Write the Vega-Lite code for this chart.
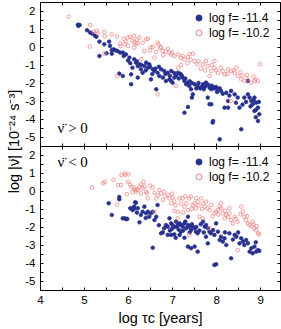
{
"$schema":"https://vega.github.io/schema/vega-lite/v6.json",
"padding":{"left":5,"top":1,"right":1,"bottom":0},
"config":{"view":{"stroke":"#000","strokeWidth":1},"font":"Liberation Sans","axis":{"domainColor":"#000","tickColor":"#000","labelColor":"#000","titleColor":"#000","grid":false,"tickSize":-3,"labelFontSize":11.5,"labelFlush":false,"labelOverlap":false,"titleFontWeight":"normal"}},
"datasets":{
"gt":[
{"x":4.86,"y":1.24,"f":"-11.4"},{"x":4.88,"y":1.2,"f":"-11.4"},{"x":4.9,"y":1.22,"f":"-11.4"},{"x":4.87,"y":1.18,"f":"-11.4"},{"x":5.07,"y":0.93,"f":"-11.4"},{"x":5.14,"y":0.8,"f":"-11.4"},{"x":5.19,"y":0.74,"f":"-11.4"},{"x":5.25,"y":0.63,"f":"-11.4"},{"x":5.28,"y":0.57,"f":"-11.4"},{"x":5.27,"y":0.6,"f":"-11.4"},{"x":5.35,"y":0.3,"f":"-11.4"},{"x":5.46,"y":0.15,"f":"-11.4"},{"x":5.57,"y":0.3,"f":"-11.4"},{"x":5.59,"y":0.06,"f":"-11.4"},{"x":5.63,"y":-0.17,"f":"-11.4"},{"x":5.67,"y":-0.13,"f":"-11.4"},{"x":5.71,"y":-0.18,"f":"-11.4"},{"x":5.76,"y":-0.22,"f":"-11.4"},{"x":5.82,"y":-0.31,"f":"-11.4"},{"x":5.35,"y":-0.5,"f":"-11.4"},{"x":5.51,"y":-0.35,"f":"-11.4"},{"x":5.63,"y":-0.37,"f":"-11.4"},{"x":5.8,"y":-1.48,"f":"-11.4"},
{"x":5.88,"y":-0.31,"f":"-11.4"},{"x":5.95,"y":-0.41,"f":"-11.4"},{"x":6.03,"y":-0.59,"f":"-11.4"},{"x":5.88,"y":-1.61,"f":"-11.4"},{"x":6.07,"y":-1.52,"f":"-11.4"},{"x":6.1,"y":-1.15,"f":"-11.4"},{"x":6.14,"y":-0.68,"f":"-11.4"},{"x":6.18,"y":-0.87,"f":"-11.4"},{"x":6.22,"y":-1.06,"f":"-11.4"},{"x":6.26,"y":-0.96,"f":"-11.4"},{"x":6.29,"y":-1.24,"f":"-11.4"},{"x":6.33,"y":-1.43,"f":"-11.4"},{"x":6.07,"y":-2.07,"f":"-11.4"},{"x":6.22,"y":-1.7,"f":"-11.4"},{"x":6.37,"y":-1.06,"f":"-11.4"},{"x":6.41,"y":-0.87,"f":"-11.4"},{"x":6.45,"y":-1.15,"f":"-11.4"},{"x":6.48,"y":-0.96,"f":"-11.4"},{"x":6.52,"y":-1.8,"f":"-11.4"},{"x":6.56,"y":-1.24,"f":"-11.4"},{"x":6.6,"y":-1.33,"f":"-11.4"},{"x":6.64,"y":-2.35,"f":"-11.4"},{"x":6.67,"y":-1.43,"f":"-11.4"},{"x":6.71,"y":-1.61,"f":"-11.4"},{"x":6.75,"y":-1.24,"f":"-11.4"},{"x":6.79,"y":-1.7,"f":"-11.4"},{"x":6.82,"y":-1.33,"f":"-11.4"},{"x":6.86,"y":-1.89,"f":"-11.4"},{"x":6.9,"y":-1.43,"f":"-11.4"},{"x":6.94,"y":-1.8,"f":"-11.4"},{"x":6.98,"y":-1.89,"f":"-11.4"},{"x":7.01,"y":-1.98,"f":"-11.4"},{"x":7.05,"y":-1.7,"f":"-11.4"},{"x":7.09,"y":-1.61,"f":"-11.4"},{"x":7.13,"y":-1.43,"f":"-11.4"},{"x":7.17,"y":-1.48,"f":"-11.4"},{"x":7.2,"y":-1.52,"f":"-11.4"},{"x":7.24,"y":-1.7,"f":"-11.4"},{"x":7.28,"y":-1.89,"f":"-11.4"},{"x":7.32,"y":-2.07,"f":"-11.4"},{"x":7.36,"y":-1.98,"f":"-11.4"},{"x":7.39,"y":-2.17,"f":"-11.4"},{"x":7.43,"y":-2.35,"f":"-11.4"},{"x":7.47,"y":-2.63,"f":"-11.4"},{"x":7.51,"y":-2.07,"f":"-11.4"},{"x":7.58,"y":-2.17,"f":"-11.4"},{"x":7.64,"y":-2.3,"f":"-11.4"},{"x":7.36,"y":-3.33,"f":"-11.4"},{"x":7.28,"y":-3.65,"f":"-11.4"},{"x":7.45,"y":-2.81,"f":"-11.4"},{"x":6.98,"y":-1.33,"f":"-11.4"},
{"x":7.7,"y":-2.07,"f":"-11.4"},{"x":7.77,"y":-1.98,"f":"-11.4"},{"x":7.85,"y":-2.26,"f":"-11.4"},{"x":7.89,"y":-2.35,"f":"-11.4"},{"x":7.93,"y":-2.22,"f":"-11.4"},{"x":7.96,"y":-2.3,"f":"-11.4"},{"x":8.0,"y":-2.22,"f":"-11.4"},{"x":8.04,"y":-2.35,"f":"-11.4"},{"x":8.08,"y":-2.3,"f":"-11.4"},{"x":8.11,"y":-2.44,"f":"-11.4"},{"x":7.81,"y":-2.81,"f":"-11.4"},{"x":7.89,"y":-3.18,"f":"-11.4"},{"x":7.93,"y":-4.11,"f":"-11.4"},{"x":8.08,"y":-5.13,"f":"-11.4"},{"x":8.19,"y":-3.37,"f":"-11.4"},{"x":8.23,"y":-2.54,"f":"-11.4"},{"x":8.27,"y":-3.0,"f":"-11.4"},{"x":8.34,"y":-2.44,"f":"-11.4"},{"x":8.42,"y":-2.63,"f":"-11.4"},{"x":8.49,"y":-2.81,"f":"-11.4"},{"x":8.53,"y":-3.37,"f":"-11.4"},{"x":8.57,"y":-4.57,"f":"-11.4"},{"x":8.64,"y":-2.81,"f":"-11.4"},{"x":8.72,"y":-2.63,"f":"-11.4"},{"x":8.72,"y":-1.89,"f":"-11.4"},{"x":8.8,"y":-3.0,"f":"-11.4"},{"x":8.83,"y":-3.18,"f":"-11.4"},{"x":8.87,"y":-2.81,"f":"-11.4"},{"x":8.91,"y":-3.09,"f":"-11.4"},{"x":8.95,"y":-3.37,"f":"-11.4"},{"x":8.98,"y":-3.74,"f":"-11.4"},{"x":8.87,"y":-3.55,"f":"-11.4"},{"x":8.76,"y":-2.81,"f":"-11.4"},{"x":8.95,"y":-4.11,"f":"-11.4"},{"x":8.9,"y":-3.9,"f":"-11.4"},
{"x":5.9,"y":-0.5,"f":"-11.4"},{"x":6.0,"y":-0.75,"f":"-11.4"},{"x":6.05,"y":-0.9,"f":"-11.4"},{"x":6.2,"y":-0.8,"f":"-11.4"},{"x":6.3,"y":-1.0,"f":"-11.4"},{"x":6.4,"y":-1.3,"f":"-11.4"},{"x":6.5,"y":-1.1,"f":"-11.4"},{"x":6.55,"y":-1.5,"f":"-11.4"},{"x":6.62,"y":-1.2,"f":"-11.4"},{"x":6.7,"y":-1.1,"f":"-11.4"},{"x":6.85,"y":-1.5,"f":"-11.4"},{"x":6.95,"y":-1.6,"f":"-11.4"},{"x":7.05,"y":-1.45,"f":"-11.4"},{"x":7.15,"y":-1.75,"f":"-11.4"},{"x":7.22,"y":-1.6,"f":"-11.4"},{"x":7.3,"y":-1.75,"f":"-11.4"},{"x":7.4,"y":-1.9,"f":"-11.4"},{"x":7.45,"y":-2.0,"f":"-11.4"},{"x":7.55,"y":-2.3,"f":"-11.4"},{"x":7.6,"y":-2.0,"f":"-11.4"},{"x":7.68,"y":-2.2,"f":"-11.4"},{"x":7.72,"y":-2.35,"f":"-11.4"},{"x":7.75,"y":-2.2,"f":"-11.4"},{"x":7.82,"y":-2.1,"f":"-11.4"},{"x":7.9,"y":-2.15,"f":"-11.4"},{"x":8.02,"y":-2.5,"f":"-11.4"},{"x":8.15,"y":-2.6,"f":"-11.4"},{"x":8.3,"y":-2.7,"f":"-11.4"},{"x":8.45,"y":-3.1,"f":"-11.4"},{"x":8.6,"y":-3.2,"f":"-11.4"},{"x":8.68,"y":-3.05,"f":"-11.4"},{"x":8.78,"y":-3.3,"f":"-11.4"},{"x":8.85,"y":-2.95,"f":"-11.4"},{"x":8.9,"y":-3.5,"f":"-11.4"},{"x":8.97,"y":-3.05,"f":"-11.4"},{"x":7.92,"y":-4.2,"f":"-11.4"},{"x":7.85,"y":-3.18,"f":"-11.4"},{"x":8.27,"y":-3.37,"f":"-11.4"},
{"x":4.65,"y":1.69,"f":"-10.2"},{"x":5.14,"y":1.22,"f":"-10.2"},{"x":5.22,"y":0.85,"f":"-10.2"},{"x":5.29,"y":0.89,"f":"-10.2"},{"x":5.31,"y":0.76,"f":"-10.2"},{"x":5.46,"y":0.83,"f":"-10.2"},{"x":5.47,"y":0.59,"f":"-10.2"},{"x":5.63,"y":0.7,"f":"-10.2"},{"x":5.75,"y":0.59,"f":"-10.2"},{"x":5.13,"y":0.02,"f":"-10.2"},{"x":5.46,"y":-0.37,"f":"-10.2"},{"x":5.75,"y":-1.61,"f":"-10.2"},{"x":5.82,"y":0.19,"f":"-10.2"},{"x":5.83,"y":0.05,"f":"-10.2"},
{"x":5.9,"y":0.46,"f":"-10.2"},{"x":5.99,"y":0.52,"f":"-10.2"},{"x":6.05,"y":0.57,"f":"-10.2"},{"x":6.13,"y":0.61,"f":"-10.2"},{"x":5.92,"y":0.15,"f":"-10.2"},{"x":6.14,"y":0.24,"f":"-10.2"},{"x":6.18,"y":0.15,"f":"-10.2"},{"x":6.22,"y":0.21,"f":"-10.2"},{"x":6.14,"y":-0.04,"f":"-10.2"},{"x":6.26,"y":0.52,"f":"-10.2"},{"x":6.33,"y":0.24,"f":"-10.2"},{"x":6.37,"y":-0.22,"f":"-10.2"},{"x":6.45,"y":0.46,"f":"-10.2"},{"x":6.51,"y":0.0,"f":"-10.2"},{"x":6.56,"y":0.0,"f":"-10.2"},{"x":6.64,"y":-0.28,"f":"-10.2"},{"x":6.67,"y":0.24,"f":"-10.2"},{"x":6.69,"y":0.15,"f":"-10.2"},{"x":6.73,"y":-0.07,"f":"-10.2"},{"x":6.79,"y":-0.22,"f":"-10.2"},{"x":6.86,"y":-0.26,"f":"-10.2"},{"x":6.94,"y":-0.31,"f":"-10.2"},{"x":6.98,"y":-0.41,"f":"-10.2"},{"x":7.05,"y":-0.5,"f":"-10.2"},{"x":7.13,"y":-0.41,"f":"-10.2"},{"x":7.24,"y":-0.5,"f":"-10.2"},{"x":7.28,"y":-0.68,"f":"-10.2"},{"x":7.36,"y":-0.56,"f":"-10.2"},{"x":7.47,"y":-0.37,"f":"-10.2"},{"x":7.51,"y":-0.78,"f":"-10.2"},{"x":7.57,"y":-0.96,"f":"-10.2"},{"x":7.14,"y":-1.15,"f":"-10.2"},{"x":6.67,"y":-2.63,"f":"-10.2"},{"x":7.09,"y":-2.17,"f":"-10.2"},{"x":6.6,"y":-0.59,"f":"-10.2"},{"x":6.3,"y":-0.68,"f":"-10.2"},{"x":6.0,"y":0.06,"f":"-10.2"},
{"x":7.7,"y":-0.96,"f":"-10.2"},{"x":7.77,"y":-0.78,"f":"-10.2"},{"x":7.81,"y":-1.06,"f":"-10.2"},{"x":7.89,"y":-1.33,"f":"-10.2"},{"x":7.96,"y":-1.15,"f":"-10.2"},{"x":8.04,"y":-1.43,"f":"-10.2"},{"x":8.11,"y":-1.15,"f":"-10.2"},{"x":8.19,"y":-1.52,"f":"-10.2"},{"x":8.27,"y":-1.24,"f":"-10.2"},{"x":8.34,"y":-1.33,"f":"-10.2"},{"x":8.42,"y":-1.43,"f":"-10.2"},{"x":8.46,"y":-1.15,"f":"-10.2"},{"x":8.49,"y":-1.61,"f":"-10.2"},{"x":8.57,"y":-1.8,"f":"-10.2"},{"x":8.64,"y":-1.89,"f":"-10.2"},{"x":8.72,"y":-1.8,"f":"-10.2"},{"x":8.8,"y":-1.98,"f":"-10.2"},{"x":8.87,"y":-1.89,"f":"-10.2"},{"x":8.95,"y":-1.89,"f":"-10.2"},{"x":8.99,"y":-0.96,"f":"-10.2"},{"x":8.34,"y":-3.0,"f":"-10.2"},{"x":7.96,"y":-0.78,"f":"-10.2"},{"x":7.85,"y":-1.61,"f":"-10.2"},
{"x":6.41,"y":0.43,"f":"-10.2"},{"x":6.5,"y":-0.2,"f":"-10.2"},{"x":6.75,"y":0.0,"f":"-10.2"},{"x":6.9,"y":-0.1,"f":"-10.2"},{"x":7.0,"y":-0.3,"f":"-10.2"},{"x":7.2,"y":-0.6,"f":"-10.2"},{"x":7.35,"y":-0.9,"f":"-10.2"},{"x":7.42,"y":-0.7,"f":"-10.2"},{"x":7.6,"y":-0.8,"f":"-10.2"},{"x":7.65,"y":-1.2,"f":"-10.2"},{"x":7.75,"y":-1.3,"f":"-10.2"},{"x":7.9,"y":-1.0,"f":"-10.2"},{"x":8.0,"y":-1.3,"f":"-10.2"},{"x":8.15,"y":-1.35,"f":"-10.2"},{"x":8.25,"y":-1.5,"f":"-10.2"},{"x":8.4,"y":-1.3,"f":"-10.2"},{"x":8.55,"y":-1.4,"f":"-10.2"},{"x":8.6,"y":-1.6,"f":"-10.2"},{"x":8.7,"y":-1.55,"f":"-10.2"},{"x":8.85,"y":-1.65,"f":"-10.2"},{"x":8.9,"y":-1.8,"f":"-10.2"},{"x":7.2,"y":-1.0,"f":"-10.2"},{"x":7.4,"y":-0.4,"f":"-10.2"},{"x":6.8,"y":-0.45,"f":"-10.2"},{"x":6.1,"y":0.35,"f":"-10.2"},{"x":6.2,"y":0.4,"f":"-10.2"},{"x":5.95,"y":0.3,"f":"-10.2"}
],
"lt":[
{"x":5.56,"y":-0.68,"f":"-11.4"},{"x":5.63,"y":-1.33,"f":"-11.4"},{"x":5.8,"y":-0.46,"f":"-11.4"},{"x":5.8,"y":-0.33,"f":"-11.4"},{"x":5.88,"y":-1.52,"f":"-11.4"},{"x":5.96,"y":-1.56,"f":"-11.4"},{"x":6.05,"y":-0.96,"f":"-11.4"},{"x":6.1,"y":-1.06,"f":"-11.4"},{"x":6.13,"y":-1.0,"f":"-11.4"},{"x":6.18,"y":-0.65,"f":"-11.4"},{"x":6.26,"y":-1.74,"f":"-11.4"},
{"x":5.92,"y":-1.52,"f":"-11.4"},{"x":5.98,"y":-1.55,"f":"-11.4"},{"x":6.14,"y":-0.87,"f":"-11.4"},{"x":6.16,"y":-0.63,"f":"-11.4"},{"x":6.1,"y":-0.96,"f":"-11.4"},{"x":6.22,"y":-0.96,"f":"-11.4"},{"x":6.29,"y":-1.33,"f":"-11.4"},{"x":6.33,"y":-1.15,"f":"-11.4"},{"x":6.37,"y":-0.87,"f":"-11.4"},{"x":6.41,"y":-1.24,"f":"-11.4"},{"x":6.45,"y":-1.15,"f":"-11.4"},{"x":6.48,"y":-1.43,"f":"-11.4"},{"x":6.52,"y":-1.24,"f":"-11.4"},{"x":6.56,"y":-1.15,"f":"-11.4"},{"x":6.6,"y":-1.61,"f":"-11.4"},{"x":6.64,"y":-1.43,"f":"-11.4"},{"x":6.67,"y":-0.78,"f":"-11.4"},{"x":6.75,"y":-2.35,"f":"-11.4"},{"x":6.79,"y":-2.3,"f":"-11.4"},{"x":6.82,"y":-2.07,"f":"-11.4"},{"x":6.86,"y":-1.89,"f":"-11.4"},{"x":6.9,"y":-1.98,"f":"-11.4"},{"x":6.94,"y":-1.52,"f":"-11.4"},{"x":6.98,"y":-1.8,"f":"-11.4"},{"x":7.01,"y":-1.89,"f":"-11.4"},{"x":7.05,"y":-1.98,"f":"-11.4"},{"x":7.09,"y":-1.7,"f":"-11.4"},{"x":7.13,"y":-1.89,"f":"-11.4"},{"x":7.17,"y":-1.8,"f":"-11.4"},{"x":7.2,"y":-1.89,"f":"-11.4"},{"x":7.24,"y":-1.98,"f":"-11.4"},{"x":7.28,"y":-1.8,"f":"-11.4"},{"x":7.32,"y":-2.07,"f":"-11.4"},{"x":7.36,"y":-1.89,"f":"-11.4"},{"x":7.39,"y":-1.98,"f":"-11.4"},{"x":7.43,"y":-2.17,"f":"-11.4"},{"x":7.47,"y":-1.98,"f":"-11.4"},{"x":7.51,"y":-2.07,"f":"-11.4"},{"x":7.54,"y":-2.26,"f":"-11.4"},{"x":7.58,"y":-2.35,"f":"-11.4"},{"x":6.98,"y":-2.44,"f":"-11.4"},{"x":7.05,"y":-2.41,"f":"-11.4"},{"x":7.17,"y":-2.44,"f":"-11.4"},{"x":6.56,"y":-3.15,"f":"-11.4"},{"x":7.36,"y":-3.09,"f":"-11.4"},{"x":7.43,"y":-3.18,"f":"-11.4"},{"x":7.51,"y":-3.09,"f":"-11.4"},{"x":7.58,"y":-3.37,"f":"-11.4"},{"x":7.36,"y":-1.43,"f":"-11.4"},{"x":7.2,"y":-2.26,"f":"-11.4"},{"x":6.9,"y":-2.44,"f":"-11.4"},
{"x":7.7,"y":-1.7,"f":"-11.4"},{"x":7.74,"y":-1.98,"f":"-11.4"},{"x":7.77,"y":-1.89,"f":"-11.4"},{"x":7.81,"y":-2.07,"f":"-11.4"},{"x":7.85,"y":-2.26,"f":"-11.4"},{"x":7.93,"y":-2.17,"f":"-11.4"},{"x":7.96,"y":-2.44,"f":"-11.4"},{"x":8.0,"y":-1.8,"f":"-11.4"},{"x":8.04,"y":-2.26,"f":"-11.4"},{"x":8.08,"y":-2.72,"f":"-11.4"},{"x":8.11,"y":-2.54,"f":"-11.4"},{"x":8.15,"y":-2.81,"f":"-11.4"},{"x":8.19,"y":-2.63,"f":"-11.4"},{"x":8.23,"y":-3.0,"f":"-11.4"},{"x":8.3,"y":-2.35,"f":"-11.4"},{"x":8.34,"y":-3.74,"f":"-11.4"},{"x":8.42,"y":-2.44,"f":"-11.4"},{"x":8.46,"y":-2.54,"f":"-11.4"},{"x":8.53,"y":-2.91,"f":"-11.4"},{"x":8.57,"y":-2.63,"f":"-11.4"},{"x":8.61,"y":-2.81,"f":"-11.4"},{"x":8.64,"y":-3.0,"f":"-11.4"},{"x":8.68,"y":-2.72,"f":"-11.4"},{"x":8.76,"y":-3.37,"f":"-11.4"},{"x":8.8,"y":-3.18,"f":"-11.4"},{"x":8.83,"y":-3.46,"f":"-11.4"},{"x":8.87,"y":-3.09,"f":"-11.4"},{"x":8.91,"y":-3.37,"f":"-11.4"},{"x":8.95,"y":-3.28,"f":"-11.4"},{"x":8.98,"y":-3.33,"f":"-11.4"},{"x":7.81,"y":-2.91,"f":"-11.4"},{"x":7.96,"y":-4.11,"f":"-11.4"},{"x":8.0,"y":-4.07,"f":"-11.4"},{"x":7.77,"y":-2.54,"f":"-11.4"},
{"x":7.0,"y":-2.1,"f":"-11.4"},{"x":7.1,"y":-2.0,"f":"-11.4"},{"x":7.15,"y":-2.15,"f":"-11.4"},{"x":7.25,"y":-2.2,"f":"-11.4"},{"x":7.3,"y":-1.7,"f":"-11.4"},{"x":7.4,"y":-2.3,"f":"-11.4"},{"x":7.45,"y":-1.85,"f":"-11.4"},{"x":7.55,"y":-2.0,"f":"-11.4"},{"x":7.62,"y":-2.2,"f":"-11.4"},{"x":7.65,"y":-1.85,"f":"-11.4"},{"x":7.72,"y":-2.3,"f":"-11.4"},{"x":7.88,"y":-2.35,"f":"-11.4"},{"x":6.7,"y":-1.9,"f":"-11.4"},{"x":6.95,"y":-2.2,"f":"-11.4"},{"x":7.08,"y":-2.6,"f":"-11.4"},{"x":7.28,"y":-2.6,"f":"-11.4"},{"x":8.2,"y":-2.3,"f":"-11.4"},{"x":8.38,"y":-2.7,"f":"-11.4"},{"x":8.5,"y":-2.3,"f":"-11.4"},{"x":8.72,"y":-2.9,"f":"-11.4"},{"x":8.9,"y":-2.85,"f":"-11.4"},{"x":6.4,"y":-1.5,"f":"-11.4"},{"x":6.2,"y":-1.2,"f":"-11.4"},
{"x":5.18,"y":0.19,"f":"-10.2"},{"x":5.43,"y":0.43,"f":"-10.2"},{"x":5.47,"y":0.5,"f":"-10.2"},{"x":5.67,"y":0.63,"f":"-10.2"},{"x":5.77,"y":0.33,"f":"-10.2"},{"x":5.85,"y":0.89,"f":"-10.2"},{"x":5.94,"y":0.89,"f":"-10.2"},{"x":5.75,"y":-0.76,"f":"-10.2"},{"x":5.97,"y":-0.18,"f":"-10.2"},{"x":6.08,"y":0.22,"f":"-10.2"},{"x":6.1,"y":-0.06,"f":"-10.2"},{"x":6.15,"y":0.04,"f":"-10.2"},{"x":6.19,"y":0.08,"f":"-10.2"},
{"x":5.92,"y":0.98,"f":"-10.2"},{"x":6.01,"y":0.93,"f":"-10.2"},{"x":5.84,"y":0.33,"f":"-10.2"},{"x":6.14,"y":0.19,"f":"-10.2"},{"x":6.22,"y":0.06,"f":"-10.2"},{"x":6.26,"y":0.24,"f":"-10.2"},{"x":6.29,"y":0.37,"f":"-10.2"},{"x":6.33,"y":0.15,"f":"-10.2"},{"x":6.37,"y":0.24,"f":"-10.2"},{"x":6.41,"y":-0.04,"f":"-10.2"},{"x":6.45,"y":-0.41,"f":"-10.2"},{"x":6.56,"y":0.19,"f":"-10.2"},{"x":6.43,"y":-0.13,"f":"-10.2"},{"x":6.29,"y":-0.13,"f":"-10.2"},{"x":6.18,"y":-0.04,"f":"-10.2"},{"x":6.64,"y":-0.41,"f":"-10.2"},{"x":6.71,"y":0.06,"f":"-10.2"},{"x":6.75,"y":-0.13,"f":"-10.2"},{"x":6.79,"y":-0.5,"f":"-10.2"},{"x":6.82,"y":-0.04,"f":"-10.2"},{"x":6.9,"y":-0.22,"f":"-10.2"},{"x":6.94,"y":-0.41,"f":"-10.2"},{"x":6.98,"y":-0.69,"f":"-10.2"},{"x":7.01,"y":-0.37,"f":"-10.2"},{"x":7.05,"y":-0.59,"f":"-10.2"},{"x":7.13,"y":-1.15,"f":"-10.2"},{"x":7.17,"y":-0.41,"f":"-10.2"},{"x":7.24,"y":-0.41,"f":"-10.2"},{"x":7.28,"y":-0.87,"f":"-10.2"},{"x":7.32,"y":-0.69,"f":"-10.2"},{"x":7.36,"y":-1.06,"f":"-10.2"},{"x":7.39,"y":-0.41,"f":"-10.2"},{"x":7.43,"y":-0.31,"f":"-10.2"},{"x":7.47,"y":-0.78,"f":"-10.2"},{"x":7.51,"y":-0.69,"f":"-10.2"},{"x":7.54,"y":-0.96,"f":"-10.2"},{"x":7.58,"y":-0.59,"f":"-10.2"},{"x":7.62,"y":-1.43,"f":"-10.2"},{"x":7.39,"y":-2.44,"f":"-10.2"},{"x":6.6,"y":-1.15,"f":"-10.2"},{"x":7.13,"y":-1.52,"f":"-10.2"},
{"x":7.66,"y":-0.41,"f":"-10.2"},{"x":7.7,"y":-0.69,"f":"-10.2"},{"x":7.74,"y":-0.87,"f":"-10.2"},{"x":7.77,"y":-0.59,"f":"-10.2"},{"x":7.85,"y":-1.06,"f":"-10.2"},{"x":7.89,"y":-0.78,"f":"-10.2"},{"x":7.96,"y":-1.24,"f":"-10.2"},{"x":8.0,"y":-1.15,"f":"-10.2"},{"x":8.04,"y":-1.06,"f":"-10.2"},{"x":8.08,"y":-0.87,"f":"-10.2"},{"x":8.11,"y":-0.96,"f":"-10.2"},{"x":8.15,"y":-1.24,"f":"-10.2"},{"x":8.19,"y":-1.52,"f":"-10.2"},{"x":8.23,"y":-1.33,"f":"-10.2"},{"x":8.27,"y":-1.43,"f":"-10.2"},{"x":8.34,"y":-1.61,"f":"-10.2"},{"x":8.38,"y":-1.8,"f":"-10.2"},{"x":8.42,"y":-1.43,"f":"-10.2"},{"x":8.49,"y":-1.7,"f":"-10.2"},{"x":8.57,"y":-0.87,"f":"-10.2"},{"x":8.61,"y":-1.15,"f":"-10.2"},{"x":8.64,"y":-1.43,"f":"-10.2"},{"x":8.68,"y":-1.61,"f":"-10.2"},{"x":8.72,"y":-1.8,"f":"-10.2"},{"x":8.76,"y":-1.89,"f":"-10.2"},{"x":8.8,"y":-1.98,"f":"-10.2"},{"x":8.83,"y":-1.7,"f":"-10.2"},{"x":8.87,"y":-2.07,"f":"-10.2"},{"x":8.91,"y":-2.17,"f":"-10.2"},{"x":8.95,"y":-2.35,"f":"-10.2"},{"x":8.98,"y":-2.41,"f":"-10.2"},{"x":7.85,"y":-2.07,"f":"-10.2"},{"x":8.49,"y":-3.28,"f":"-10.2"},{"x":7.7,"y":-1.52,"f":"-10.2"},{"x":8.11,"y":-0.68,"f":"-10.2"},{"x":8.3,"y":-0.96,"f":"-10.2"},
{"x":6.5,"y":0.3,"f":"-10.2"},{"x":6.6,"y":-0.1,"f":"-10.2"},{"x":6.68,"y":-0.25,"f":"-10.2"},{"x":6.85,"y":-0.3,"f":"-10.2"},{"x":7.0,"y":-0.15,"f":"-10.2"},{"x":7.08,"y":-0.8,"f":"-10.2"},{"x":7.2,"y":-0.7,"f":"-10.2"},{"x":7.3,"y":-0.3,"f":"-10.2"},{"x":7.45,"y":-1.0,"f":"-10.2"},{"x":7.55,"y":-0.4,"f":"-10.2"},{"x":7.6,"y":-0.8,"f":"-10.2"},{"x":7.68,"y":-1.0,"f":"-10.2"},{"x":7.8,"y":-0.95,"f":"-10.2"},{"x":7.92,"y":-1.4,"f":"-10.2"},{"x":8.05,"y":-1.3,"f":"-10.2"},{"x":8.2,"y":-1.1,"f":"-10.2"},{"x":8.3,"y":-1.25,"f":"-10.2"},{"x":8.45,"y":-1.55,"f":"-10.2"},{"x":8.55,"y":-1.3,"f":"-10.2"},{"x":8.7,"y":-1.4,"f":"-10.2"},{"x":8.85,"y":-1.85,"f":"-10.2"},{"x":8.92,"y":-1.95,"f":"-10.2"},{"x":6.35,"y":0.5,"f":"-10.2"},{"x":6.0,"y":0.5,"f":"-10.2"},{"x":6.05,"y":0.35,"f":"-10.2"},{"x":7.25,"y":-1.2,"f":"-10.2"},{"x":7.05,"y":-1.1,"f":"-10.2"}
]
},
"spacing":0,
"bounds":"flush",
"resolve":{"scale":{"fill":"independent","stroke":"independent"},"legend":{"fill":"independent","stroke":"independent"}},
"vconcat":[
{"width":240,"height":144,
"layer":[
{"data":{"name":"gt"},
"mark":{"type":"point","filled":true,"size":13,"strokeWidth":0.8,"opacity":1},
"encoding":{
"x":{"field":"x","type":"quantitative","scale":{"domain":[4,9.45],"nice":false,"zero":false},"axis":{"orient":"bottom","values":[4,4.5,5,5.5,6,6.5,7,7.5,8,8.5,9],"labels":false,"title":null}},
"y":{"field":"y","type":"quantitative","scale":{"domain":[-5.5,2.5],"nice":false,"zero":false},"axis":{"orient":"left","values":[-5,-4.5,-4,-3.5,-3,-2.5,-2,-1.5,-1,-0.5,0,0.5,1,1.5,2],"labelExpr":"datum.value % 1 === 0 ? '' + datum.value : ''","labelPadding":8,"title":"log |ν̈| [10⁻²⁴ s⁻³]","titleX":-26,"titleY":139,"titleAngle":-90,"titleAlign":"center","titleBaseline":"middle","titleFontSize":14.5}},
"fill":{"field":"f","type":"nominal","scale":{"domain":["-11.4","-10.2"],"range":["#27308f","transparent"]},"legend":{"orient":"top-right","title":null,"labelExpr":"'log f= ' + datum.label","labelFontSize":12,"symbolSize":36,"symbolStrokeWidth":1,"offset":10,"rowPadding":3,"padding":0,"symbolType":"circle","encode":{"labels":{"update":{"fill":{"signal":"datum.value === '-10.2' ? '#ee2a2a' : '#3a44a8'"}}}}}},
"stroke":{"field":"f","type":"nominal","scale":{"domain":["-11.4","-10.2"],"range":["#27308f","#f08585"]},"legend":{"orient":"top-right","title":null,"labelExpr":"'log f= ' + datum.label","labelFontSize":12,"symbolSize":36,"symbolStrokeWidth":1,"offset":10,"rowPadding":3,"padding":0,"symbolType":"circle","encode":{"labels":{"update":{"fill":{"signal":"datum.value === '-10.2' ? '#ee2a2a' : '#3a44a8'"}}}}}}
}},
{"data":{"values":[{"t":"ν̈ > 0"}]},
"mark":{"type":"text","font":"Liberation Serif","fontSize":15,"align":"left","baseline":"alphabetic","color":"#000"},
"encoding":{
"x":{"datum":4.4,"type":"quantitative","axis":{"orient":"top","values":[4,4.5,5,5.5,6,6.5,7,7.5,8,8.5,9],"labels":false,"title":null}},
"y":{"datum":-4.8,"type":"quantitative","axis":{"orient":"right","values":[-5,-4.5,-4,-3.5,-3,-2.5,-2,-1.5,-1,-0.5,0,0.5,1,1.5,2],"labels":false,"title":null}},
"text":{"field":"t"}}}
],
"resolve":{"axis":{"x":"independent","y":"independent"}}
},
{"width":240,"height":144,
"layer":[
{"data":{"name":"lt"},
"mark":{"type":"point","filled":true,"size":13,"strokeWidth":0.8,"opacity":1},
"encoding":{
"x":{"field":"x","type":"quantitative","scale":{"domain":[4,9.45],"nice":false,"zero":false},"axis":{"orient":"bottom","values":[4,4.5,5,5.5,6,6.5,7,7.5,8,8.5,9],"labelExpr":"datum.value % 1 === 0 ? '' + datum.value : ''","labelPadding":7,"title":"log τc [years]","titleFontSize":14.5,"titlePadding":6}},
"y":{"field":"y","type":"quantitative","scale":{"domain":[-5.5,2.5],"nice":false,"zero":false},"axis":{"orient":"left","values":[-5,-4.5,-4,-3.5,-3,-2.5,-2,-1.5,-1,-0.5,0,0.5,1,1.5,2],"labelExpr":"datum.value % 1 === 0 ? '' + datum.value : ''","labelPadding":8,"title":null}},
"fill":{"field":"f","type":"nominal","scale":{"domain":["-11.4","-10.2"],"range":["#27308f","transparent"]},"legend":{"orient":"top-right","title":null,"labelExpr":"'log f= ' + datum.label","labelFontSize":12,"symbolSize":36,"symbolStrokeWidth":1,"offset":10,"rowPadding":3,"padding":0,"symbolType":"circle","encode":{"labels":{"update":{"fill":{"signal":"datum.value === '-10.2' ? '#ee2a2a' : '#3a44a8'"}}}}}},
"stroke":{"field":"f","type":"nominal","scale":{"domain":["-11.4","-10.2"],"range":["#27308f","#f08585"]},"legend":{"orient":"top-right","title":null,"labelExpr":"'log f= ' + datum.label","labelFontSize":12,"symbolSize":36,"symbolStrokeWidth":1,"offset":10,"rowPadding":3,"padding":0,"symbolType":"circle","encode":{"labels":{"update":{"fill":{"signal":"datum.value === '-10.2' ? '#ee2a2a' : '#3a44a8'"}}}}}}
}},
{"data":{"values":[{"t":"ν̈ < 0"}]},
"mark":{"type":"text","font":"Liberation Serif","fontSize":15,"align":"left","baseline":"alphabetic","color":"#000"},
"encoding":{
"x":{"datum":4.4,"type":"quantitative","axis":{"orient":"top","values":[4,4.5,5,5.5,6,6.5,7,7.5,8,8.5,9],"labels":false,"title":null}},
"y":{"datum":1.35,"type":"quantitative","axis":{"orient":"right","values":[-5,-4.5,-4,-3.5,-3,-2.5,-2,-1.5,-1,-0.5,0,0.5,1,1.5,2],"labels":false,"title":null}},
"text":{"field":"t"}}}
],
"resolve":{"axis":{"x":"independent","y":"independent"}}
}
]
}
